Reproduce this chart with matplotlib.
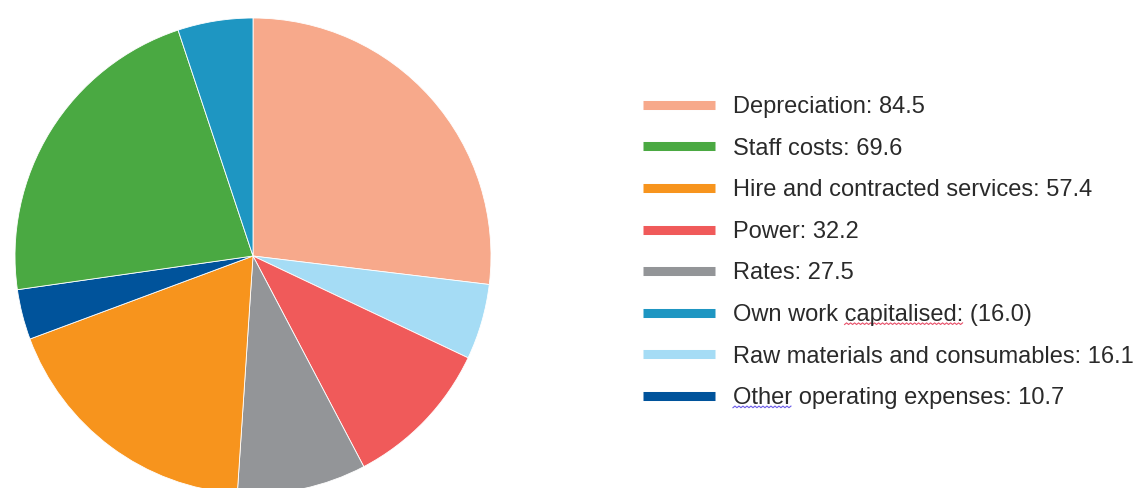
import numpy as np
import matplotlib.pyplot as plt
from matplotlib.lines import Line2D

plt.rcParams['font.family'] = ['Liberation Sans', 'DejaVu Sans']

# Datos en el orden de la tarta (sentido horario desde arriba)
categories = ["Depreciation", "Raw materials and consumables", "Power", "Rates",
              "Hire and contracted services", "Other operating expenses",
              "Staff costs", "Own work capitalised"]
values = [84.5, 16.1, 32.2, 27.5, 57.4, 10.7, 69.6, 16.0]
value_labels = ["84.5", "16.1", "32.2", "27.5", "57.4", "10.7", "69.6", "(16.0)"]
colors = ["#F7A98B", "#A5DCF5", "#F05A5A", "#939598",
          "#F7941D", "#00539B", "#4AA942", "#1E96C2"]

# Orden de la leyenda
legend_order = [0, 6, 4, 2, 3, 7, 1, 5]

W, H = 1140, 488
fig = plt.figure(figsize=(W / 100, H / 100), dpi=100)

# Tarta: centro (253, 256) px, radio 238 px
cx, cy, r = 253, 256, 238
ax = fig.add_axes([(cx - r) / W, (H - cy - r) / H, 2 * r / W, 2 * r / H])
ax.pie(values, colors=colors, startangle=90, counterclock=False,
       wedgeprops=dict(edgecolor='white', linewidth=0.6))
ax.set_xlim(-1, 1)
ax.set_ylim(-1, 1)
ax.set_aspect('equal')
ax.axis('off')

handles = [Line2D([], [], color=colors[i], linewidth=6.5, solid_capstyle='butt')
           for i in legend_order]
labels = [f"{categories[i]}: {value_labels[i]}" for i in legend_order]

leg = fig.legend(handles, labels, loc='upper left',
                 bbox_to_anchor=(643 / W, 1 - 96 / H),
                 frameon=False, fontsize=17, handlelength=3.05, handletextpad=0.76,
                 labelspacing=0.83, labelcolor='#2a2a2a', borderaxespad=0,
                 borderpad=0)

# Subrayado ondulado del corrector (como en la captura original)
fig.canvas.draw()
renderer = fig.canvas.get_renderer()


def squiggle(text, start, word, color):
    prop = text.get_fontproperties()
    bb = text.get_window_extent(renderer)
    x0 = bb.x0 + renderer.get_text_width_height_descent(start, prop, ismath=False)[0]
    wlen = renderer.get_text_width_height_descent(word, prop, ismath=False)[0]
    xs = np.arange(x0, x0 + wlen + 0.1, 2.0)
    ys = bb.y0 + 1.5 + np.where(np.arange(len(xs)) % 2 == 0, 0.0, 1.6)
    fig.add_artist(Line2D(xs, ys, transform=None, color=color, linewidth=0.8))


for t in leg.get_texts():
    s = t.get_text()
    if s.startswith("Own work"):
        squiggle(t, "Own work ", "capitalised:", "#e8506a")
    elif s.startswith("Other"):
        squiggle(t, "", "Other", "#6a5ae8")

fig.savefig("out.png", dpi=100)
